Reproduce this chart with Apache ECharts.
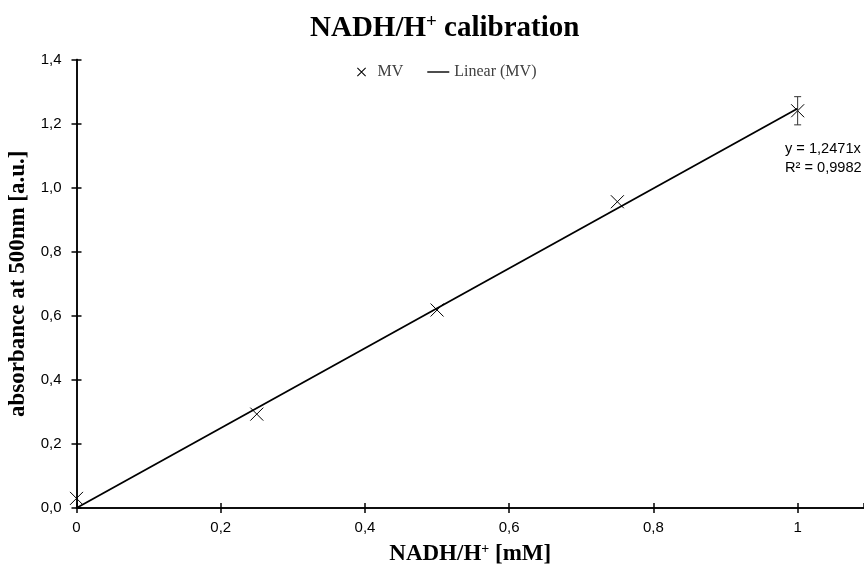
<!DOCTYPE html>
<html>
<head>
<meta charset="utf-8">
<script src="https://cdn.jsdelivr.net/npm/echarts@6/dist/echarts.min.js"></script>
<style>
  html, body { margin: 0; padding: 0; background: #fff; }
  #chart { width: 864px; height: 568px; }
</style>
</head>
<body>
<div id="chart"></div>
<script>
// measured values (mean absorbance per concentration)
var concentrations = [0, 0.25, 0.5, 0.75, 1];
var absorbance = [0.030, 0.293, 0.618, 0.956, 1.240];
var errors = [0, 0, 0, 0, 0.044];
// linear fit through origin, as printed on the chart
var slope = 1.2471;
var rSquared = '0,9982';
var trendX = [0, 1];
var xTicks = [0, 0.2, 0.4, 0.6, 0.8, 1];
var yTicks = [0, 0.2, 0.4, 0.6, 0.8, 1.0, 1.2, 1.4];

(function() {
	var myChart = echarts.init(document.getElementById('chart'));

	function comma(v, digits) {
		return v.toFixed(digits).replace('.', ',');
	}

	var pointData = concentrations.map(function(x, i) {
		return [x, absorbance[i], errors[i]];
	});
	var trendData = trendX.map(function(x) {
		return [x, slope * x];
	});

	var serif = 'Liberation Serif';
	var sans = 'Liberation Sans';

	// draws an x marker and an optional error bar
	function renderPoint(params, api) {
		var x = api.value(0), y = api.value(1), e = api.value(2);
		var c = api.coord([x, y]);
		var s = 6.5;
		var children = [
			{ type: 'line', shape: { x1: c[0] - s, y1: c[1] - s, x2: c[0] + s, y2: c[1] + s }, style: { stroke: '#000', lineWidth: 1 } },
			{ type: 'line', shape: { x1: c[0] - s, y1: c[1] + s, x2: c[0] + s, y2: c[1] - s }, style: { stroke: '#000', lineWidth: 1 } }
		];
		if (e > 0) {
			var top = api.coord([x, y + e]);
			var bot = api.coord([x, y - e]);
			children.push(
				{ type: 'line', shape: { x1: c[0], y1: top[1], x2: c[0], y2: bot[1] }, style: { stroke: '#333', lineWidth: 1 } },
				{ type: 'line', shape: { x1: c[0] - 3.5, y1: top[1], x2: c[0] + 3.5, y2: top[1] }, style: { stroke: '#333', lineWidth: 1 } },
				{ type: 'line', shape: { x1: c[0] - 3.5, y1: bot[1], x2: c[0] + 3.5, y2: bot[1] }, style: { stroke: '#333', lineWidth: 1 } }
			);
		}
		return { type: 'group', children: children };
	}

	var axisCommon = {
		type: 'value',
		splitLine: { show: false },
		axisLine: { show: true, lineStyle: { color: '#000', width: 1.5 } }
	};

	var option = {
		backgroundColor: '#fff',
		animation: false,
		title: {
			text: 'NADH/H{sup|+} calibration',
			left: 305,
			top: 8,
			textStyle: {
				fontFamily: serif, fontWeight: 'bold', fontSize: 29, color: '#000',
				rich: {
					sup: { fontFamily: serif, fontWeight: 'bold', fontSize: 19, color: '#000', verticalAlign: 'top', padding: [0, 0, 13, 0] }
				}
			}
		},
		legend: {
			top: 59,
			left: 352,
			itemWidth: 22,
			itemHeight: 9,
			itemGap: 24,
			textStyle: { fontFamily: serif, fontSize: 16, color: '#404040' },
			data: [
				{ name: 'MV', icon: 'path://M0,0.8L0.8,0L10,9.2L9.2,10Z M9.2,0L10,0.8L0.8,10L0,9.2Z' },
				{ name: 'Linear (MV)', icon: 'path://M0,0H22V1.4H0Z' }
			]
		},
		grid: { left: 76.5, right: 0, top: 59.5, bottom: 60, outerBoundsMode: 'none' },
		xAxis: [
			Object.assign({}, axisCommon, {
				min: 0, max: 1.092, interval: 0.2,
				position: 'bottom',
				name: 'NADH/H{sup|+} [mM]',
				nameLocation: 'middle',
				nameGap: 34,
				nameTextStyle: {
					fontFamily: serif, fontWeight: 'bold', fontSize: 23, color: '#000',
					rich: {
						sup: { fontFamily: serif, fontWeight: 'bold', fontSize: 14, color: '#000', verticalAlign: 'top', padding: [0, 0, 10, 0] }
					}
				},
				axisTick: { show: true, inside: false, length: 5, lineStyle: { color: '#000', width: 1.5 } },
				axisLabel: {
					showMaxLabel: false, margin: 12,
					fontFamily: sans, fontSize: 15, color: '#000',
					formatter: function(v) { return xTicks.indexOf(+v.toFixed(1)) < 0 ? '' : String(+v.toFixed(1)).replace('.', ','); }
				}
			}),
			Object.assign({}, axisCommon, {
				min: 0, max: 1.092, interval: 0.2,
				position: 'bottom',
				axisTick: { show: true, inside: true, length: 5, lineStyle: { color: '#000', width: 1.5 } },
				axisLabel: { show: false }
			})
		],
		yAxis: [
			Object.assign({}, axisCommon, {
				min: 0, max: 1.4, interval: 0.2,
				position: 'left',
				name: 'absorbance at 500nm [a.u.]',
				nameLocation: 'middle',
				nameGap: 36,
				nameTextStyle: { fontFamily: serif, fontWeight: 'bold', fontSize: 23, color: '#000' },
				axisTick: { show: true, inside: false, length: 5, lineStyle: { color: '#000', width: 1.5 } },
				axisLabel: {
					margin: 15,
					fontFamily: sans, fontSize: 15, color: '#000',
					formatter: function(v) { return yTicks.indexOf(+v.toFixed(1)) < 0 ? '' : comma(v, 1); }
				}
			}),
			Object.assign({}, axisCommon, {
				min: 0, max: 1.4, interval: 0.2,
				position: 'left',
				axisTick: { show: true, inside: true, length: 5, lineStyle: { color: '#000', width: 1.5 } },
				axisLabel: { show: false }
			})
		],
		graphic: [{
			type: 'text',
			left: 785,
			top: 139,
			style: {
				text: 'y = ' + comma(slope, 4) + 'x\nR² = ' + rSquared,
				font: '14.6px "Liberation Sans"',
				fill: '#000',
				lineHeight: 19
			}
		}],
		series: [
			{
				name: 'Linear (MV)',
				type: 'line',
				data: trendData,
				symbol: 'none',
				itemStyle: { color: '#000' },
				lineStyle: { color: '#000', width: 1.8 },
				z: 3
			},
			{
				name: 'MV',
				type: 'custom',
				data: pointData,
				itemStyle: { color: '#000' },
				renderItem: renderPoint,
				encode: { x: 0, y: 1 },
				z: 4
			}
		]
	};
	myChart.setOption(option);
})();
</script>
</body>
</html>
